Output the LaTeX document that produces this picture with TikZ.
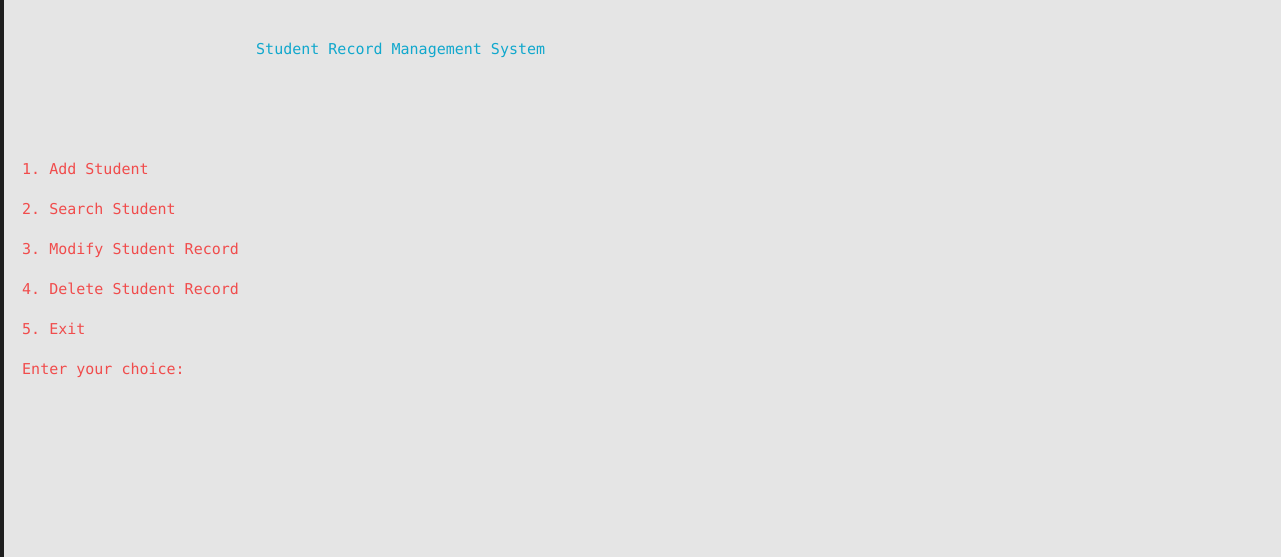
\documentclass[tikz,border=0pt]{standalone}
\usepackage{fontspec}
\setmonofont{DejaVu Sans Mono}
\usepackage{xcolor}
\usetikzlibrary{positioning}
\definecolor{termbg}{HTML}{E5E5E5}
\definecolor{termedge}{HTML}{1E1E1E}
\definecolor{termred}{HTML}{F14C4C}
\definecolor{termcyan}{HTML}{11A8CD}
\tikzset{
 screen/.style={x=1pt,y=-1pt},
 termtext/.style={anchor=base west,inner sep=0pt,
   font=\ttfamily\fontsize{15}{18}\selectfont},
 heading/.style={termtext,text=termcyan},
 menuline/.style={termtext,text=termred}}

\begin{document}
\begin{tikzpicture}[screen]
      \fill[termbg] (0,0) rectangle (1281,557);
      \fill[termedge] (0,0) rectangle (4,557);
      \node[heading] (title) at (256,54) {Student Record Management System};
      \node[menuline] (add) at (22,174) {1. Add Student};
      \node[menuline] (search) at (22,214) {2. Search Student};
      \node[menuline] (modify) at (22,254) {3. Modify Student Record};
      \node[menuline] (delete) at (22,294) {4. Delete Student Record};
      \node[menuline] (exit) at (22,334) {5. Exit};
      \node[menuline] (prompt) at (22,374) {Enter your choice:};
    \end{tikzpicture}
\end{document}
